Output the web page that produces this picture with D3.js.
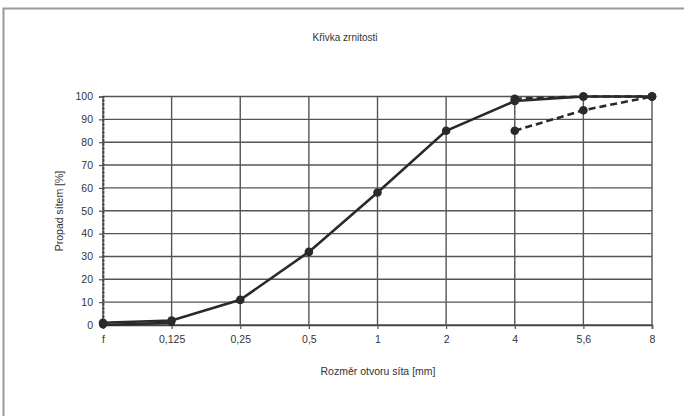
<!DOCTYPE html>
<html><head><meta charset="utf-8">
<script src="https://cdn.jsdelivr.net/npm/d3@7"></script>
<style>body{margin:0;background:#fff}svg{display:block}text{font-family:"Liberation Sans",Arial,sans-serif;fill:#333}</style>
</head><body><svg id="c" width="684" height="416"></svg>
<script>
const categories = ["f","0,125","0,25","0,5","1","2","4","5,6","8"];
const mainSeries = [1,2,11,32,58,85,98,100,100];
const lowerStart = [0,1,null,null,null,null,null,null,null];
const upperDashed = [null,null,null,null,null,null,99,100,100];
const lowerDashed = [null,null,null,null,null,null,85,94,100];
const yTicks = [0,10,20,30,40,50,60,70,80,90,100];
const title = "Křivka zrnitosti";
const xTitle = "Rozměr otvoru síta [mm]";
const yTitle = "Propad sítem [%]";

const svg = d3.select("#c");
svg.append("rect").attr("x",3.5).attr("y",8.5).attr("width",700).attr("height",430)
  .attr("fill","#fff").attr("stroke","#999").attr("stroke-width",2);

const x = d3.scalePoint().domain(categories).range([103,652]);
const y = d3.scaleLinear().domain([0,100]).range([325,96.5]);

const grid = svg.append("g");
grid.selectAll("line.h").data(yTicks).join("line")
  .attr("x1",x.range()[0]).attr("x2",x.range()[1])
  .attr("y1",d=>y(d)).attr("y2",d=>y(d))
  .attr("stroke","#555").attr("stroke-width",1.4);
grid.selectAll("line.v").data(categories).join("line")
  .attr("x1",d=>x(d)).attr("x2",d=>x(d))
  .attr("y1",y(100)).attr("y2",y(0))
  .attr("stroke","#555").attr("stroke-width",1.4);

const yAxis = svg.append("g").attr("transform",`translate(${x.range()[0]},0)`)
  .call(d3.axisLeft(y).tickValues(yTicks).tickSize(4).tickPadding(6));
yAxis.select(".domain").attr("stroke","#444").attr("stroke-width",1.8).attr("stroke-dasharray","3,1");
yAxis.selectAll(".tick line").attr("stroke","#555").attr("stroke-width",1.2);
yAxis.selectAll("text").attr("font-size",10.5).attr("fill","#333");

const xAxis = svg.append("g").attr("transform",`translate(0,${y(0)})`)
  .call(d3.axisBottom(x).tickSize(4).tickPadding(7));
xAxis.select(".domain").attr("stroke","#444").attr("stroke-width",1.6);
xAxis.selectAll(".tick line").attr("stroke","#555").attr("stroke-width",1.2);
xAxis.selectAll("text").attr("font-size",10.5).attr("fill","#333");

function seriesPts(vals){ return categories.map((c,i)=>({c,v:vals[i]})).filter(d=>d.v!=null); }
const line = d3.line().x(d=>x(d.c)).y(d=>y(d.v));
const col = "#2a2a2a";

function draw(vals, dashed, r){
  const pts = seriesPts(vals);
  svg.append("path").datum(pts).attr("d",line).attr("fill","none")
    .attr("stroke",col).attr("stroke-width",2.6)
    .attr("stroke-dasharray",dashed?"7,4":null);
  svg.append("g").selectAll("circle").data(pts).join("circle")
    .attr("cx",d=>x(d.c)).attr("cy",d=>y(d.v)).attr("r",r).attr("fill",col);
}
draw(lowerStart,false,3.5);
draw(lowerDashed,true,4.3);
draw(upperDashed,true,4.3);
draw(mainSeries,false,4.3);

svg.append("text").attr("x",345).attr("y",41).attr("text-anchor","middle")
  .attr("font-size",10).text(title);
svg.append("text").attr("x",378).attr("y",375).attr("text-anchor","middle")
  .attr("font-size",10.5).text(xTitle);
svg.append("text").attr("transform","translate(63,211) rotate(-90)").attr("text-anchor","middle")
  .attr("font-size",10.5).text(yTitle);
</script></body></html>
